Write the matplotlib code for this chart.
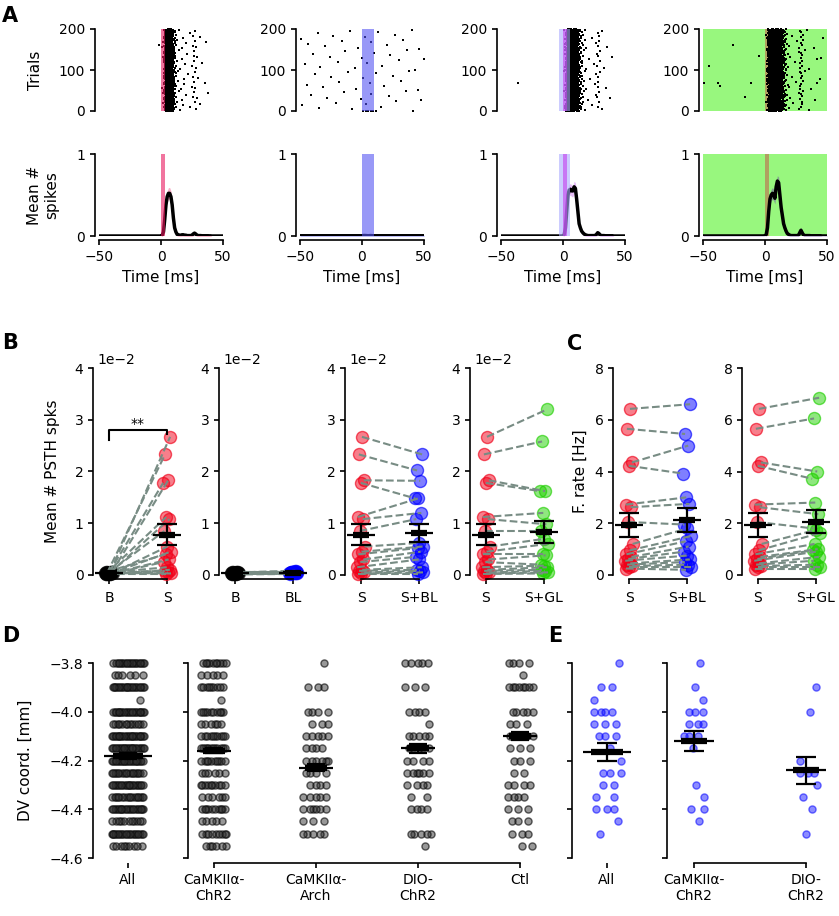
import numpy as np
import matplotlib.pyplot as plt
from matplotlib.colors import to_rgba

plt.rcParams['font.family'] = 'DejaVu Sans'
plt.rcParams['font.size'] = 10
plt.rcParams['axes.linewidth'] = 1.2
plt.rcParams['xtick.major.width'] = 1.2
plt.rcParams['ytick.major.width'] = 1.2
plt.rcParams['xtick.major.size'] = 3.5
plt.rcParams['ytick.major.size'] = 3.5

W, H = 839, 916

# ---------------- A: PSTH (mean spikes per trial per 1 ms bin) ----------------
time_ms = np.arange(-50, 51)
n_trials = 200
psth_baseline = [0.0, 0.003, 0.0, 0.0005]
psth_resp_red = [0.0, 0.01, 0.05, 0.20, 0.38, 0.48, 0.52, 0.52, 0.48, 0.38,
                 0.22, 0.10, 0.05, 0.02, 0.015, 0.01, 0.01, 0.015, 0.015, 0.01,
                 0.01, 0.005, 0.005, 0.005, 0.005, 0.01, 0.025, 0.035, 0.025, 0.01,
                 0.005, 0.005, 0.005, 0.003, 0.003, 0.003, 0.003, 0.003, 0.003, 0.002,
                 0.002, 0.0, 0.0, 0.0, 0.0, 0.0]
psth_resp_blue = [0.003, 0.005, 0.006, 0.005, 0.004, 0.003, 0.004, 0.005, 0.004, 0.003,
                  0.003, 0.003, 0.003, 0.003, 0.003, 0.003, 0.003, 0.003, 0.003, 0.003,
                  0.003, 0.003, 0.003, 0.003, 0.003, 0.003, 0.003, 0.003, 0.003, 0.003,
                  0.003, 0.003, 0.003, 0.003, 0.003, 0.003, 0.003, 0.003, 0.003, 0.003,
                  0.003, 0.003, 0.003, 0.003, 0.003, 0.003]
psth_resp_red_blue = [0.0, 0.02, 0.10, 0.30, 0.50, 0.56, 0.57, 0.55, 0.55, 0.60,
                      0.58, 0.45, 0.30, 0.15, 0.10, 0.06, 0.04, 0.025, 0.015, 0.01,
                      0.005, 0.005, 0.005, 0.005, 0.005, 0.005, 0.005, 0.02, 0.04, 0.03,
                      0.01, 0.005, 0.005, 0.005, 0.003, 0.003, 0.003, 0.003, 0.003, 0.003,
                      0.003, 0.0, 0.0, 0.0, 0.0, 0.0]
psth_resp_red_green = [0.0, 0.02, 0.10, 0.30, 0.45, 0.50, 0.52, 0.50, 0.46, 0.60,
                       0.67, 0.65, 0.50, 0.35, 0.25, 0.15, 0.10, 0.06, 0.03, 0.02,
                       0.01, 0.005, 0.005, 0.005, 0.005, 0.005, 0.005, 0.005, 0.04, 0.07,
                       0.04, 0.01, 0.005, 0.005, 0.005, 0.005, 0.005, 0.003, 0.003, 0.003,
                       0.003, 0.003, 0.003, 0.003, 0.003, 0.003]
psth_resp = [psth_resp_red, psth_resp_blue, psth_resp_red_blue, psth_resp_red_green]

# isolated spikes (time ms, trial)
extra_spikes = [
    [(-2, 160)],
    [(1, 1), (3, 1), (5, 1), (7, 1), (9, 1), (11, 1)],
    [(-36, 68)],
    [(-49, 68), (-38, 68), (-11, 68), (42, 68), (45, 130)],
]

# light epochs (start ms, end ms, colour, alpha)
light_spans = [
    [(0, 3, '#e9195f', 0.6)],
    [(0, 10, '#5555f2', 0.6)],
    [(-3, 6, '#aaaaff', 0.6), (0, 3, '#c63fee', 0.6)],
    [(-50, 50, '#98f77e', 1.0), (0, 3, '#b0a060', 1.0)],
]
band_colors = ['#f06090', '#7070f0', '#d080f0', '#7050a0']

# ---------------- B / C: per-cell values ----------------
psth_B = [0.0005, 0.0003, 0.0006, 0.0004, 0.0002, 0.0005, 0.0003, 0.0004, 0.0002,
          0.0006, 0.0003, 0.0001, 0.0004, 0.0002, 0.0005, 0.0003, 0.0004, 0.0002]
psth_S = [0.0267, 0.0233, 0.0183, 0.0178, 0.0112, 0.0108, 0.0085, 0.0055, 0.0045,
          0.0040, 0.0030, 0.0025, 0.0015, 0.0010, 0.0008, 0.0005, 0.0003, 0.0002]
psth_BL = [0.0007, 0.0005, 0.0006, 0.0004, 0.0003, 0.0008, 0.0004, 0.0005, 0.0003,
           0.0006, 0.0004, 0.0002, 0.0005, 0.0003, 0.0006, 0.0004, 0.0005, 0.0003]
psth_SBL = [0.0233, 0.0202, 0.0182, 0.0148, 0.0148, 0.0120, 0.0108, 0.0062, 0.0055,
            0.0052, 0.0045, 0.0035, 0.0030, 0.0015, 0.0010, 0.0008, 0.0005, 0.0002]
psth_SGL = [0.0320, 0.0258, 0.0162, 0.0162, 0.0120, 0.0098, 0.0085, 0.0070, 0.0060,
            0.0040, 0.0038, 0.0020, 0.0018, 0.0015, 0.0010, 0.0008, 0.0005, 0.0003]
rate_S = [6.42, 5.65, 4.35, 4.22, 2.72, 2.62, 2.05, 1.20, 0.95,
          0.80, 0.70, 0.62, 0.55, 0.45, 0.40, 0.35, 0.30, 0.25]
rate_SBL = [6.60, 5.45, 5.00, 3.92, 3.00, 2.75, 1.95, 1.80, 1.50,
            1.30, 1.10, 0.90, 0.75, 0.60, 0.50, 0.40, 0.30, 0.20]
rate_SGL = [6.85, 6.05, 4.00, 3.72, 2.80, 2.35, 1.80, 1.75, 1.62,
            1.20, 1.00, 0.95, 0.90, 0.70, 0.55, 0.40, 0.30, 0.25]

# ---------------- D / E: DV coordinates (counts per depth level) ----------------
dv_levels = [-3.80, -3.85, -3.90, -3.95, -4.00, -4.05, -4.10, -4.15,
             -4.20, -4.25, -4.30, -4.35, -4.40, -4.45, -4.50, -4.55]
d_groups = ['CaMKIIα-\nChR2', 'CaMKIIα-\nArch', 'DIO-\nChR2', 'Ctl']
d_counts = [
    [10, 5, 9, 1, 10, 6, 10, 12, 10, 6, 10, 6, 10, 5, 9, 6],
    [1, 0, 3, 0, 4, 3, 5, 4, 6, 4, 4, 5, 6, 3, 5, 0],
    [5, 0, 3, 0, 4, 1, 5, 5, 4, 6, 4, 2, 4, 0, 5, 1],
    [4, 1, 8, 0, 5, 3, 5, 3, 3, 2, 4, 4, 3, 3, 3, 2],
]
d_mean_all, d_sem_all = -4.18, 0.012
d_means = [-4.16, -4.23, -4.15, -4.10]
d_sems = [0.010, 0.015, 0.018, 0.015]

e_groups = ['CaMKIIα-\nChR2', 'DIO-\nChR2']
e_counts = [
    [1, 0, 1, 1, 3, 3, 3, 1, 0, 0, 1, 1, 2, 1, 0, 0],
    [0, 0, 1, 0, 1, 0, 0, 0, 1, 3, 1, 1, 1, 0, 1, 0],
]
e_mean_all, e_sem_all = -4.165, 0.035
e_means = [-4.12, -4.24]
e_sems = [0.04, 0.055]

RED, BLUE, GREEN, BLACK = '#f00018', '#0000ff', '#20d000', '#000000'
LINE_GREY = '#788c84'

fig = plt.figure(figsize=(W / 100, H / 100), dpi=100)


def px_axes(left, top, right, bottom):
    return fig.add_axes([left / W, 1 - bottom / H, (right - left) / W, (bottom - top) / H])


def clean(ax, left=None, bottom=None, offset=3):
    ax.spines['top'].set_visible(False)
    ax.spines['right'].set_visible(False)
    ax.spines['left'].set_position(('outward', offset))
    ax.spines['bottom'].set_position(('outward', offset))
    if left is not None:
        ax.spines['left'].set_bounds(*left)
    if bottom is None:
        ax.spines['bottom'].set_visible(False)
        ax.tick_params(bottom=False, labelbottom=False)
    else:
        ax.spines['bottom'].set_bounds(*bottom)
    ax.patch.set_visible(False)


def mean_bar(ax, x, m, e, ppu, thin=14, thick=8, cap=10):
    ax.plot([x - thin / ppu, x + thin / ppu], [m, m], color='k', lw=1.6,
            solid_capstyle='butt', zorder=6, clip_on=False)
    ax.plot([x - thick / ppu, x + thick / ppu], [m, m], color='k', lw=4.5,
            solid_capstyle='butt', zorder=6, clip_on=False)
    ax.errorbar([x], [m], yerr=[e], fmt='none', ecolor='k', elinewidth=1.6,
                capsize=cap / 1.389, capthick=1.6, zorder=6)


def spread(counts, half, seed_shift):
    xs = []
    for li, n in enumerate(counts):
        for i in range(n):
            xs.append((((i + 1) * 0.618034 + li * 0.381966 + seed_shift) % 1 - 0.5) * 2 * half)
    return np.array(xs)


def radical_inverse(k, base):
    f, r = 1.0, 0.0
    while k > 0:
        f /= base
        r += f * (k % base)
        k //= base
    return r


# ================= Panel A =================
a_left = [99, 300, 501, 703]
for p in range(4):
    psth = np.full(time_ms.size, psth_baseline[p])
    psth[50:50 + len(psth_resp[p])] = psth_resp[p]
    counts = np.diff(np.round(np.cumsum(psth * n_trials)), prepend=0).astype(int)
    xs, ys = [], []
    k = 17 + 53 * p
    for t, c in zip(time_ms, counts):
        for j in range(c):
            k += 1
            xs.append(t - 0.5 + radical_inverse(k, 3))
            ys.append(radical_inverse(k, 2) * n_trials)
    for t, tr in extra_spikes[p]:
        xs.append(t)
        ys.append(tr)

    axr = px_axes(a_left[p], 29, a_left[p] + 124, 111)
    axp = px_axes(a_left[p], 154, a_left[p] + 124, 236)
    for ax in (axr, axp):
        for s0, s1, col, al in light_spans[p]:
            ax.axvspan(s0, s1, color=col, alpha=al, lw=0, zorder=3 if al < 1 else 0)
        ax.set_xlim(-50, 50)

    axr.scatter(xs, ys, s=2.2, c='k', marker='s', linewidths=0, zorder=2, clip_on=False)
    axr.set_ylim(0, n_trials)
    axr.set_yticks([0, 100, 200])
    clean(axr, left=(0, 200))

    sem = np.sqrt(psth * (1 - psth) / n_trials)
    axp.fill_between(time_ms, psth - 2 * sem, psth + 2 * sem, color=band_colors[p],
                     alpha=0.5, lw=0, zorder=1.5)
    axp.plot(time_ms, psth, color='k', lw=2.5, zorder=2)
    axp.set_ylim(0, 1)
    axp.set_yticks([0, 1])
    axp.set_xticks([-50, 0, 50])
    axp.set_xlabel('Time [ms]', fontsize=11)
    clean(axp, left=(0, 1), bottom=(-50, 50))

fig.text(35 / W, 1 - 70 / H, 'Trials', rotation=90, ha='center', va='center', fontsize=11)
fig.text(43 / W, 1 - 195 / H, 'Mean #\nspikes', rotation=90, ha='center', va='center',
         fontsize=11, multialignment='center')

# ================= Panels B and C =================
bc_panels = [
    (109, psth_B, psth_S, 'B', 'S', BLACK, RED, 'psth'),
    (235, psth_B, psth_BL, 'B', 'BL', BLACK, BLUE, 'psth'),
    (361, psth_S, psth_SBL, 'S', 'S+BL', RED, BLUE, 'psth'),
    (486, psth_S, psth_SGL, 'S', 'S+GL', RED, GREEN, 'psth'),
    (629, rate_S, rate_SBL, 'S', 'S+BL', RED, BLUE, 'rate'),
    (758, rate_S, rate_SGL, 'S', 'S+GL', RED, GREEN, 'rate'),
]
ppu = 58.0
for i, (x0px, v0, v1, l0, l1, c0, c1, kind) in enumerate(bc_panels):
    ax = px_axes(x0px - 0.2 * ppu, 368, x0px + 1.35 * ppu, 575)
    v0 = np.array(v0)
    v1 = np.array(v1)
    n = len(v0)
    j0 = (((np.arange(n) + 1) * 0.618034) % 1 - 0.5) * 0.14
    j1 = (((np.arange(n) + 1) * 0.381966 + 0.5) % 1 - 0.5) * 0.14
    for xpos, vals, col, jit in [(0, v0, c0, j0), (1, v1, c1, j1)]:
        a_face = 0.6 if col == BLACK else 0.5
        ax.scatter(xpos + jit, vals, s=75, facecolor=to_rgba(col, a_face),
                   edgecolor=to_rgba(col, 0.65), linewidths=1, zorder=2, clip_on=False)
    for j in range(n):
        ax.plot([j0[j], 1 + j1[j]], [v0[j], v1[j]], color=LINE_GREY, lw=1.5,
                ls='--', zorder=3, clip_on=False)
    for xpos, vals in [(0, v0), (1, v1)]:
        mean_bar(ax, xpos, vals.mean(), vals.std(ddof=1) / np.sqrt(n), ppu)
    ax.set_xlim(-0.2, 1.35)
    ax.set_xticks([0, 1])
    ax.set_xticklabels([l0, l1])
    ax.tick_params(axis='x', pad=5)
    if kind == 'psth':
        ax.set_ylim(0, 0.04)
        ax.set_yticks([0, 0.01, 0.02, 0.03, 0.04])
        ax.ticklabel_format(style='sci', axis='y', scilimits=(0, 0))
        clean(ax, left=(0, 0.04), bottom=(0, 1))
    else:
        ax.set_ylim(0, 8)
        ax.set_yticks([0, 2, 4, 6, 8])
        clean(ax, left=(0, 8), bottom=(0, 1))
    if i == 0:
        ax.plot([0, 0, 1, 1], [0.026, 0.028, 0.028, 0.0272], color='k', lw=1.5, zorder=7)
        ax.text(0.5, 0.0279, '**', ha='center', va='bottom', fontsize=10)

fig.text(53 / W, 1 - 471 / H, 'Mean # PSTH spks', rotation=90, ha='center', va='center', fontsize=11)
fig.text(580 / W, 1 - 471 / H, 'F. rate [Hz]', rotation=90, ha='center', va='center', fontsize=11)

# ================= Panels D and E =================
dv_ticks = [-4.6, -4.4, -4.2, -4.0, -3.8]
grey_face = to_rgba('0.2', 0.5)
grey_edge = to_rgba('0.05', 0.65)
blue_face = to_rgba(BLUE, 0.45)
blue_edge = to_rgba('#1010ff', 0.6)


def dv_axes(left, right, xlim, xt, xtl, bottom_bounds, labels):
    ax = px_axes(left, 663, right, 858)
    ax.set_xlim(*xlim)
    ax.set_ylim(-4.6, -3.8)
    ax.set_yticks(dv_ticks)
    ax.set_xticks(xt)
    ax.set_xticklabels(xtl)
    clean(ax, left=(-4.6, -3.8), bottom=bottom_bounds, offset=3.5)
    if not labels:
        ax.tick_params(labelleft=False)
    return ax


d_vals = [np.repeat(dv_levels, c) for c in d_counts]
d_all_counts = np.sum(d_counts, axis=0)
d_all_vals = np.repeat(dv_levels, d_all_counts)

ax = dv_axes(98, 158, (-0.5, 0.5), [0], ['All'], (0, 0), True)
ax.scatter(spread(d_all_counts, 0.28, 0.1), d_all_vals, s=26, facecolor=grey_face,
           edgecolor=grey_edge, linewidths=1, zorder=2, clip_on=False)
mean_bar(ax, 0, d_mean_all, d_sem_all, 60, thin=24, thick=15, cap=9)

ax = dv_axes(193, 555, (-0.206, 3.343), range(4), d_groups, (0, 3), False)
for g in range(4):
    ax.scatter(g + spread(d_counts[g], 0.13, 0.2 * g), d_vals[g], s=26,
               facecolor=grey_face, edgecolor=grey_edge, linewidths=1, zorder=2, clip_on=False)
    mean_bar(ax, g, d_means[g], d_sems[g], 102, thin=17, thick=11, cap=9)

e_vals = [np.repeat(dv_levels, c) for c in e_counts]
e_all_counts = np.sum(e_counts, axis=0)
e_all_vals = np.repeat(dv_levels, e_all_counts)

ax = dv_axes(577, 637, (-0.5, 0.5), [0], ['All'], (0, 0), False)
ax.scatter(spread(e_all_counts, 0.24, 0.3), e_all_vals, s=26, facecolor=blue_face,
           edgecolor=blue_edge, linewidths=1, zorder=2, clip_on=False)
mean_bar(ax, 0, e_mean_all, e_sem_all, 60, thin=24, thick=16, cap=10)

ax = dv_axes(672, 835, (-0.196, 1.259), range(2), e_groups, (0, 1), False)
for g in range(2):
    ax.scatter(g + spread(e_counts[g], 0.1, 0.15 + 0.4 * g), e_vals[g], s=26,
               facecolor=blue_face, edgecolor=blue_edge, linewidths=1, zorder=2, clip_on=False)
    mean_bar(ax, g, e_means[g], e_sems[g], 112, thin=20, thick=13, cap=10)

fig.text(25 / W, 1 - 760 / H, 'DV coord. [mm]', rotation=90, ha='center', va='center', fontsize=11)

# ---------------- panel letters ----------------
for lab, x, y in [('A', 2, 16), ('B', 2, 343), ('C', 567, 344), ('D', 2, 636), ('E', 548, 636)]:
    fig.text(x / W, 1 - y / H, lab, fontsize=15, fontweight='bold', ha='left', va='center')

fig.savefig('out.png', dpi=100)
